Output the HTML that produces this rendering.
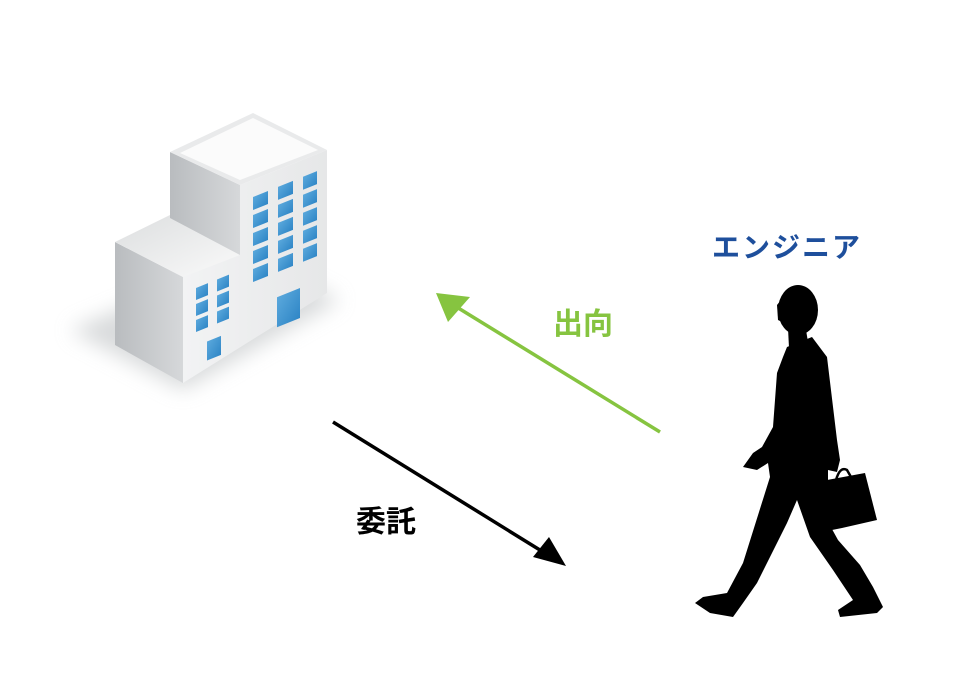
<!DOCTYPE html>
<html><head><meta charset="utf-8"><style>
html,body{margin:0;padding:0;background:#fff;width:968px;height:688px;overflow:hidden}
</style></head><body>
<svg width="968" height="688" viewBox="0 0 968 688" xmlns="http://www.w3.org/2000/svg">
<defs>
<filter id="bl" x="-50%" y="-50%" width="200%" height="200%"><feGaussianBlur stdDeviation="10"/></filter>
<linearGradient id="lf" x1="0" y1="0" x2="1" y2="0"><stop offset="0" stop-color="#b9bcbf"/><stop offset="1" stop-color="#d6d8da"/></linearGradient>
<linearGradient id="rf" x1="0" y1="0" x2="1" y2="0"><stop offset="0" stop-color="#f2f3f4"/><stop offset="1" stop-color="#e6e7e8"/></linearGradient>
<linearGradient id="tp" x1="0" y1="0" x2="1" y2="1"><stop offset="0" stop-color="#dcdedf"/><stop offset="1" stop-color="#fafafa"/></linearGradient>
<linearGradient id="win" x1="0" y1="0" x2="1" y2="1"><stop offset="0" stop-color="#5aa8dc"/><stop offset="1" stop-color="#2f86c6"/></linearGradient>
</defs>
<polygon points="70,330 183,390 340,300 250,255" fill="#cfd1d3" filter="url(#bl)" opacity="0.8"/>
<polygon points="115,242 183,277 183,383 115,345" fill="url(#lf)"/>
<polygon points="115,242 170,215 240,255 183,277" fill="url(#tp)"/>
<polygon points="170,152 240,185 240,255 170,218" fill="url(#lf)"/>
<polygon points="170,152 253,113 327,150 240,185" fill="#e9eaeb"/>
<polygon points="180,153 253,118 318,150 240,180" fill="#fbfbfb"/>
<polygon points="183,277 240,255 240,185 327,150 327,293 183,383" fill="url(#rf)"/>
<g transform="translate(253,197) skewY(-22)" fill="url(#win)">
<rect x="0" y="0" width="15" height="13"/><rect x="0" y="18" width="15" height="13"/><rect x="0" y="36" width="15" height="13"/><rect x="0" y="54" width="15" height="13"/><rect x="0" y="72" width="15" height="13"/>
<rect x="25" y="0" width="15" height="13"/><rect x="25" y="18" width="15" height="13"/><rect x="25" y="36" width="15" height="13"/><rect x="25" y="54" width="15" height="13"/><rect x="25" y="72" width="15" height="13"/>
<rect x="50" y="0" width="14" height="13"/><rect x="50" y="18" width="14" height="13"/><rect x="50" y="36" width="14" height="13"/><rect x="50" y="54" width="14" height="13"/><rect x="50" y="72" width="14" height="13"/>
<rect x="24" y="110" width="23" height="30"/>
</g>
<g transform="translate(196,288) skewY(-22)" fill="url(#win)">
<rect x="0" y="0" width="12" height="12"/><rect x="0" y="16" width="12" height="12"/><rect x="0" y="32" width="12" height="12"/>
<rect x="21" y="0" width="12" height="12"/><rect x="21" y="16" width="12" height="12"/><rect x="21" y="32" width="12" height="12"/>
<rect x="11" y="58" width="14" height="19"/>
</g>
<line x1="660" y1="432" x2="455" y2="306" stroke="#86c440" stroke-width="3.5"/>
<polygon points="436,293 470,297 448,322" fill="#86c440"/>
<line x1="333" y1="422" x2="548" y2="555" stroke="#000" stroke-width="3.5"/>
<polygon points="566,566 533,557 549,537" fill="#000"/>
<text x="712" y="257" font-family="Liberation Sans, Noto Sans CJK JP, sans-serif" font-size="28" font-weight="bold" fill="#1e4f9c" letter-spacing="2">エンジニア</text>
<text x="553" y="334" font-family="Liberation Sans, Noto Sans CJK JP, sans-serif" font-size="30" font-weight="bold" fill="#86c440">出向</text>
<text x="356" y="532" font-family="Liberation Sans, Noto Sans CJK JP, sans-serif" font-size="30" font-weight="bold" fill="#000">委託</text>
<g fill="#000">
<ellipse cx="798" cy="310" rx="20" ry="25"/>
<polygon points="777,305 781,300 782,322 778,320"/>
<polygon points="788,328 806,330 808,342 789,348"/>
<polygon points="787,347 812,337 827,357 837,440 840,460 837,472 828,470 828,480 827,520 838,540 860,565 873,587 883,607 877,613 840,617 838,610 853,600 833,570 810,537 797,500 787,523 770,557 757,583 743,603 733,617 710,613 695,603 703,597 727,593 743,563 770,477 768,463 757,470 743,467 753,453 762,447 773,427 777,373 783,357"/>
<polygon points="827,480 865,473 877,520 842,528 822,532"/>
<path d="M836,480 Q840,466 847,470 L851,477" fill="none" stroke="#000" stroke-width="2.5"/>
</g>
</svg>
</body></html>
